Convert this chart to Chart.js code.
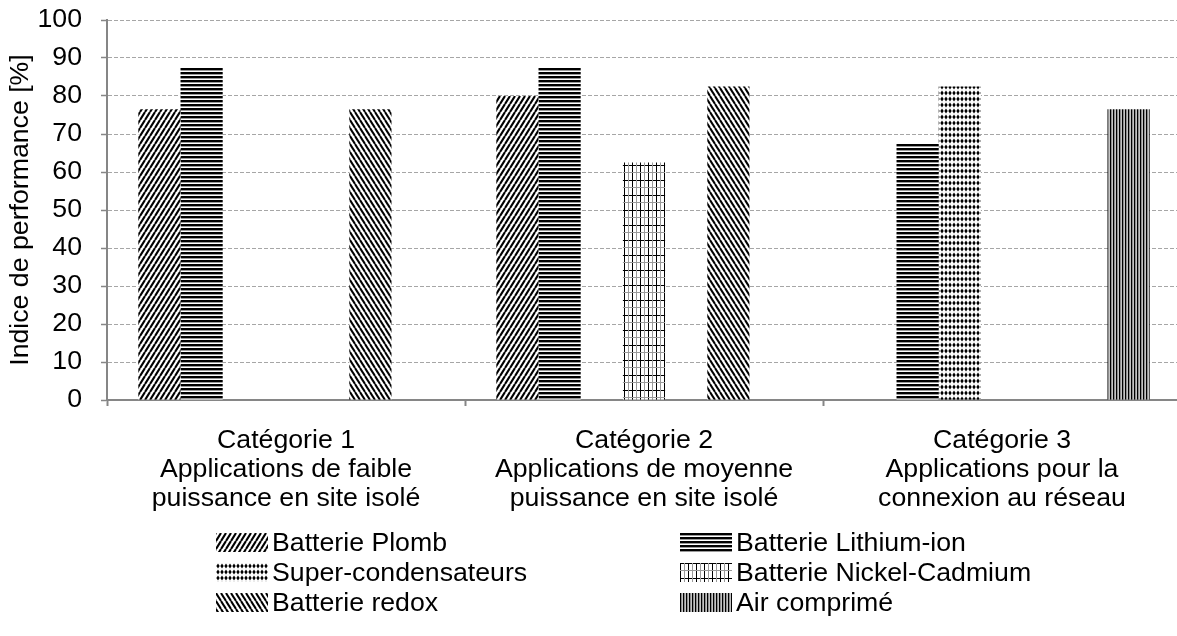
<!DOCTYPE html>
<html>
<head>
<meta charset="utf-8">
<script src="https://cdn.jsdelivr.net/npm/chart.js@4.4.1/dist/chart.umd.min.js"></script>
<style>
  html, body { margin: 0; padding: 0; background: #fff; overflow: hidden; }
  #wrap { position: relative; width: 1177px; height: 636px; overflow: hidden; font-family: "Liberation Sans", Arial, sans-serif; }
  #legend { position: absolute; left: 0; top: 0; width: 1177px; height: 636px; pointer-events: none; }
  .lg-item { position: absolute; display: flex; align-items: center; height: 30px; font-size: 26.7px; color: #000; white-space: nowrap; }
  .lg-item canvas { width: 52px; height: 19px; margin-right: 4px; }
</style>
</head>
<body>
<div id="wrap">
  <canvas id="chart" width="1181" height="636"></canvas>
  <div id="legend"></div>
</div>
<script>
// ── Data ────────────────────────────────────────────────
const CATEGORIES = [
  ["Catégorie 1", "Applications de faible", "puissance en site isolé"],
  ["Catégorie 2", "Applications de moyenne", "puissance en site isolé"],
  ["Catégorie 3", "Applications pour la", "connexion au réseau"],
];
const Y_TITLE = "Indice de performance [%]";

const PLOMB = [76.5, 80, null];
const LITHIUM = [87.5, 87.5, 67.5];
const SUPERCOND = [null, null, 82.5];
const NICD = [null, 62.5, null];
const EMPTY_SLOT = [null, null, null]; // series without values, not in legend
const REDOX = [76.5, 82.5, null];
const AIR = [null, null, 76.5];

const SERIES = [
  { name: "Batterie Plomb", data: PLOMB, pat: "up" },
  { name: "Batterie Lithium-ion", data: LITHIUM, pat: "horiz" },
  { name: "Super-condensateurs", data: SUPERCOND, pat: "diamond" },
  { name: "Batterie Nickel-Cadmium", data: NICD, pat: "grid" },
  { name: "", data: EMPTY_SLOT, pat: null },
  { name: "Batterie redox", data: REDOX, pat: "down" },
  { name: "Air comprimé", data: AIR, pat: "vert" },
];

// ── Patterns ────────────────────────────────────────────
function tile(w, h, draw) {
  const c = document.createElement("canvas");
  c.width = w;
  c.height = h;
  const g = c.getContext("2d");
  g.fillStyle = "#fff";
  g.fillRect(0, 0, w, h);
  draw(g, w, h);
  return c;
}

function diag(g, w, h, up, lw) {
  g.strokeStyle = "#000";
  g.lineWidth = lw;
  for (let k = -1; k <= 1; k++) {
    g.beginPath();
    if (up) {
      g.moveTo(k * w, h);
      g.lineTo(k * w + w, 0);
    } else {
      g.moveTo(k * w, 0);
      g.lineTo(k * w + w, h);
    }
    g.stroke();
  }
}

const TILES = {
  up: () => tile(5, 8, (g, w, h) => diag(g, w, h, true, 2.1)),
  down: () => tile(5, 8, (g, w, h) => diag(g, w, h, false, 2.0)),
  horiz: () =>
    tile(1, 4, (g) => {
      g.fillStyle = "#000";
      g.fillRect(0, 0, 1, 2);
      g.fillStyle = "#9a9a9a";
      g.fillRect(0, 2, 1, 1);
    }),
  diamond: () =>
    tile(4, 6, (g) => {
      g.fillStyle = "#000";
      g.beginPath();
      g.moveTo(2, 0.4);
      g.lineTo(3.7, 3);
      g.lineTo(2, 5.6);
      g.lineTo(0.3, 3);
      g.closePath();
      g.fill();
    }),
  grid: () =>
    tile(8, 15, (g) => {
      g.fillStyle = "#000";
      g.fillRect(0, 0, 1, 15);
      g.fillRect(0, 0, 8, 1);
      g.fillStyle = "#9a9a9a";
      g.fillRect(4, 0, 1, 15);
      g.fillRect(0, 7, 8, 1);
    }),
  vert: () =>
    tile(3, 1, (g) => {
      g.fillStyle = "#000";
      g.fillRect(0, 0, 1, 1);
      g.fillStyle = "#8f8f8f";
      g.fillRect(1, 0, 1, 1);
      g.fillStyle = "#c4c4c4";
      g.fillRect(2, 0, 1, 1);
    }),
};

const ctx = document.getElementById("chart").getContext("2d");
function patternFor(kind, c) {
  if (!kind) return "rgba(0,0,0,0)";
  return c.createPattern(TILES[kind](), "repeat");
}

const AXIS = "#868686";
const GRID = "#a6a6a6";
const FONT = { family: '"Liberation Sans", Arial, sans-serif', size: 26.7 };

new Chart(ctx, {
  type: "bar",
  data: {
    labels: CATEGORIES,
    datasets: SERIES.map((s) => ({
      label: s.name,
      data: s.data,
      backgroundColor: patternFor(s.pat, ctx),
      borderWidth: 0,
      categoryPercentage: 0.825,
      barPercentage: 1,
    })),
  },
  options: {
    responsive: false,
    animation: false,
    devicePixelRatio: 1,
    events: [],
    layout: { padding: { top: 20, right: 0, left: 0, bottom: 0 } },
    plugins: { legend: { display: false }, tooltip: { enabled: false } },
    scales: {
      x: {
        grid: { display: true, drawOnChartArea: false, drawTicks: true, tickLength: 6, tickWidth: 2, tickColor: AXIS },
        border: { display: true, color: AXIS, width: 2 },
        ticks: { color: "#000", font: { ...FONT, lineHeight: 1.086 }, padding: 20, maxRotation: 0, autoSkip: false },
        afterFit: (s) => {
          s.height = 236;
        },
      },
      y: {
        min: 0,
        max: 100,
        ticks: { stepSize: 10, color: "#000", font: FONT, padding: 19 },
        grid: { color: GRID, lineWidth: 1, tickLength: 6, tickWidth: 1.5, tickColor: AXIS },
        border: { display: true, color: AXIS, width: 2, dash: [4, 2] },
        title: { display: true, text: Y_TITLE, color: "#000", font: FONT, padding: { top: 5, bottom: 0 } },
        afterFit: (s) => {
          s.width = 107;
          // the top label may overflow the plot; keep the plot top where the reference has it
          s.paddingTop = 0;
          s.paddingBottom = 0;
        },
      },
    },
  },
});

// ── Legend (two columns) ────────────────────────────────
const legendRoot = document.getElementById("legend");
const COL_X = [216, 680];
const ROW_Y = [542, 572, 602];
SERIES.filter((s) => s.pat).forEach((s, i) => {
  const item = document.createElement("div");
  item.className = "lg-item";
  item.style.left = COL_X[i % 2] + "px";
  item.style.top = ROW_Y[Math.floor(i / 2)] - 15 + "px";
  const sw = document.createElement("canvas");
  sw.width = 52;
  sw.height = 19;
  const g = sw.getContext("2d");
  g.fillStyle = patternFor(s.pat, g);
  g.fillRect(0, 0, 52, 19);
  const txt = document.createElement("span");
  txt.textContent = s.name;
  item.appendChild(sw);
  item.appendChild(txt);
  legendRoot.appendChild(item);
});
</script>
</body>
</html>
